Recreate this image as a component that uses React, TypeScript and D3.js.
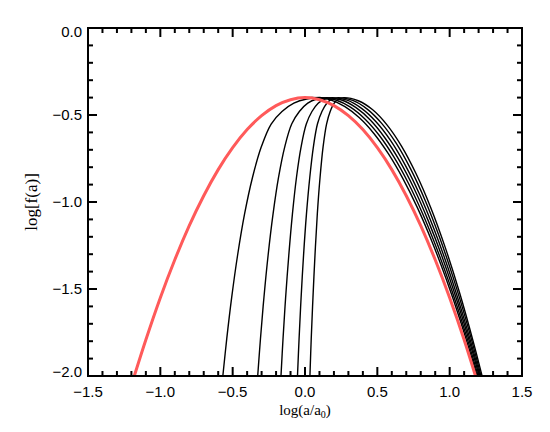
import * as d3 from "d3";

type Pt = [number, number];

// initial distribution (red)
const initialCurve: Pt[] = [
  [-1.18, -2.0], [-1.1, -1.792], [-1.0, -1.55], [-0.9, -1.332], [-0.8, -1.136],
  [-0.7, -0.964], [-0.6, -0.814], [-0.5, -0.688], [-0.4, -0.584], [-0.3, -0.504],
  [-0.2, -0.446], [-0.1, -0.412], [0.0, -0.4], [0.1, -0.412], [0.2, -0.446],
  [0.3, -0.504], [0.4, -0.584], [0.5, -0.688], [0.6, -0.814], [0.7, -0.964],
  [0.8, -1.136], [0.9, -1.332], [1.0, -1.55], [1.1, -1.792], [1.186, -2.02],
];

// evolved distributions (black), left to right
const curveA: Pt[] = [
  [-1.18, -2.0], [-1.1, -1.792], [-1.0, -1.55], [-0.9, -1.332], [-0.8, -1.136],
  [-0.7, -0.964], [-0.6, -0.814], [-0.5, -0.688], [-0.4, -0.584], [-0.3, -0.504],
  [-0.2, -0.446], [-0.1, -0.412], [0.0, -0.401], [0.076, -0.4],
  [0.176, -0.413], [0.276, -0.452], [0.376, -0.516], [0.476, -0.606], [0.576, -0.722],
  [0.676, -0.864], [0.776, -1.031], [0.876, -1.224], [0.976, -1.443], [1.076, -1.688],
  [1.19, -2.0],
];
const curveB: Pt[] = [
  [-0.568, -2.0], [-0.541, -1.787], [-0.507, -1.55], [-0.466, -1.306], [-0.418, -1.07],
  [-0.363, -0.859], [-0.302, -0.683], [-0.234, -0.552], [-0.159, -0.48], [-0.077, -0.432],
  [0.012, -0.408], [0.114, -0.4],
  [0.214, -0.414], [0.314, -0.455], [0.414, -0.523], [0.514, -0.618], [0.614, -0.741],
  [0.714, -0.891], [0.814, -1.069], [0.914, -1.274], [1.014, -1.506], [1.114, -1.765],
  [1.197, -2.0],
];
const curveC: Pt[] = [
  [-0.327, -2.0], [-0.308, -1.787], [-0.284, -1.55], [-0.255, -1.306], [-0.221, -1.07],
  [-0.183, -0.859], [-0.14, -0.683], [-0.092, -0.552], [-0.039, -0.48], [0.019, -0.432],
  [0.081, -0.408], [0.153, -0.4],
  [0.253, -0.414], [0.353, -0.458], [0.453, -0.53], [0.553, -0.632], [0.653, -0.762],
  [0.753, -0.921], [0.853, -1.11], [0.953, -1.327], [1.053, -1.573], [1.153, -1.848],
  [1.204, -2.0],
];
const curveD: Pt[] = [
  [-0.166, -2.0], [-0.152, -1.787], [-0.134, -1.55], [-0.112, -1.306], [-0.087, -1.07],
  [-0.059, -0.859], [-0.027, -0.683], [0.009, -0.552], [0.048, -0.48], [0.091, -0.432],
  [0.137, -0.408], [0.191, -0.4],
  [0.291, -0.415], [0.391, -0.462], [0.491, -0.539], [0.591, -0.646], [0.691, -0.785],
  [0.791, -0.954], [0.891, -1.154], [0.991, -1.385], [1.091, -1.647], [1.191, -1.939],
  [1.21, -2.0],
];
const curveE: Pt[] = [
  [-0.052, -2.0], [-0.041, -1.787], [-0.027, -1.55], [-0.01, -1.306], [0.01, -1.07],
  [0.033, -0.859], [0.058, -0.683], [0.086, -0.552], [0.117, -0.48], [0.151, -0.432],
  [0.188, -0.408], [0.23, -0.4],
  [0.33, -0.416], [0.43, -0.466], [0.53, -0.548], [0.63, -0.662], [0.73, -0.81],
  [0.83, -0.99], [0.93, -1.203], [1.03, -1.449], [1.13, -1.728], [1.217, -2.0],
];
const curveF: Pt[] = [
  [0.034, -2.0], [0.043, -1.787], [0.055, -1.55], [0.069, -1.306], [0.085, -1.07],
  [0.104, -0.859], [0.125, -0.683], [0.149, -0.552], [0.174, -0.48], [0.202, -0.432],
  [0.233, -0.408], [0.268, -0.4],
  [0.368, -0.418], [0.468, -0.47], [0.568, -0.558], [0.668, -0.68], [0.768, -0.838],
  [0.868, -1.03], [0.968, -1.258], [1.068, -1.52], [1.168, -1.818], [1.224, -2.0],
];
const evolvedCurves = [curveA, curveB, curveC, curveD, curveE, curveF];

const xMajor = [-1.5, -1.0, -0.5, 0.0, 0.5, 1.0, 1.5];
const yMajor = [-2.0, -1.5, -1.0, -0.5, 0.0];

const W = 550;
const H = 432;
const margin = { left: 88, right: 28, top: 28, bottom: 56 };

const fmt = (v: number) => (v < 0 ? "\u2212" : "") + Math.abs(v).toFixed(1);

export default function App() {
  const x = d3.scaleLinear().domain([-1.5, 1.5]).range([margin.left, W - margin.right]);
  const y = d3.scaleLinear().domain([-2.0, 0.0]).range([H - margin.bottom, margin.top]);
  const [x0, x1] = x.range();
  const [y0, y1] = y.range();

  const blackLine = d3
    .line<Pt>()
    .x((d) => x(d[0]))
    .y((d) => y(d[1]))
    .curve(d3.curveCatmullRom.alpha(0.5));
  const redLine = d3
    .line<Pt>()
    .x((d) => x(d[0]))
    .y((d) => y(d[1]))
    .curve(d3.curveNatural);

  const xMinor = x.ticks(30);
  const yMinor = y.ticks(20);
  const isMajor = (v: number) => Math.abs(v * 2 - Math.round(v * 2)) < 1e-6;

  // end labels sit a little inside the frame, as in the original
  const yLabelShift = (v: number) => (v === 0 ? 4 : v === -2 ? -4 : 0);

  const tickFont = "'Liberation Sans', Arial, Helvetica, sans-serif";
  const titleFont = "'Liberation Serif', 'Times New Roman', serif";

  return (
    <svg
      width={W}
      height={H}
      style={{ position: "absolute", left: 0, top: 0, background: "#fff" }}
    >
      <defs>
        <clipPath id="plot-clip">
          <rect x={x0} y={y1} width={x1 - x0} height={y0 - y1} />
        </clipPath>
      </defs>

      <g clipPath="url(#plot-clip)" fill="none">
        {evolvedCurves.map((c, i) => (
          <path key={i} d={blackLine(c) || ""} stroke="#000" strokeWidth={1.4} />
        ))}
        <path d={redLine(initialCurve) || ""} stroke="#ff5a5a" strokeWidth={3} />
      </g>

      {/* ticks on all sides */}
      <g stroke="#000" strokeWidth={2}>
        {xMinor.map((v, i) => {
          const len = isMajor(v) ? 9 : 5;
          return (
            <g key={"xt" + i}>
              <line x1={x(v)} x2={x(v)} y1={y0} y2={y0 - len} />
              <line x1={x(v)} x2={x(v)} y1={y1} y2={y1 + len} />
            </g>
          );
        })}
        {yMinor.map((v, i) => {
          const len = isMajor(v) ? 9 : 5;
          return (
            <g key={"yt" + i}>
              <line x1={x0} x2={x0 + len} y1={y(v)} y2={y(v)} />
              <line x1={x1} x2={x1 - len} y1={y(v)} y2={y(v)} />
            </g>
          );
        })}
      </g>
      <rect
        x={x0}
        y={y1}
        width={x1 - x0}
        height={y0 - y1}
        fill="none"
        stroke="#000"
        strokeWidth={2}
      />

      <g fontFamily={tickFont} fontSize={15} fill="#000">
        {xMajor.map((v) => (
          <text key={"xl" + v} x={x(v)} y={y0 + 21} textAnchor="middle">
            {fmt(v)}
          </text>
        ))}
        {yMajor.map((v) => (
          <text
            key={"yl" + v}
            x={x0 - 6}
            y={y(v) + 5 + yLabelShift(v)}
            textAnchor="end"
          >
            {fmt(v)}
          </text>
        ))}
      </g>

      <text
        x={(x0 + x1) / 2}
        y={415}
        textAnchor="middle"
        fontFamily={titleFont}
        fontSize={15}
        fill="#000"
      >
        log(a/a
        <tspan fontSize={10} dy={3}>
          0
        </tspan>
        <tspan dy={-3}>)</tspan>
      </text>
      <text
        transform={`translate(37,${(y0 + y1) / 2}) rotate(-90)`}
        textAnchor="middle"
        fontFamily={titleFont}
        fontSize={17}
        fill="#000"
      >
        log[f(a)]
      </text>
    </svg>
  );
}
